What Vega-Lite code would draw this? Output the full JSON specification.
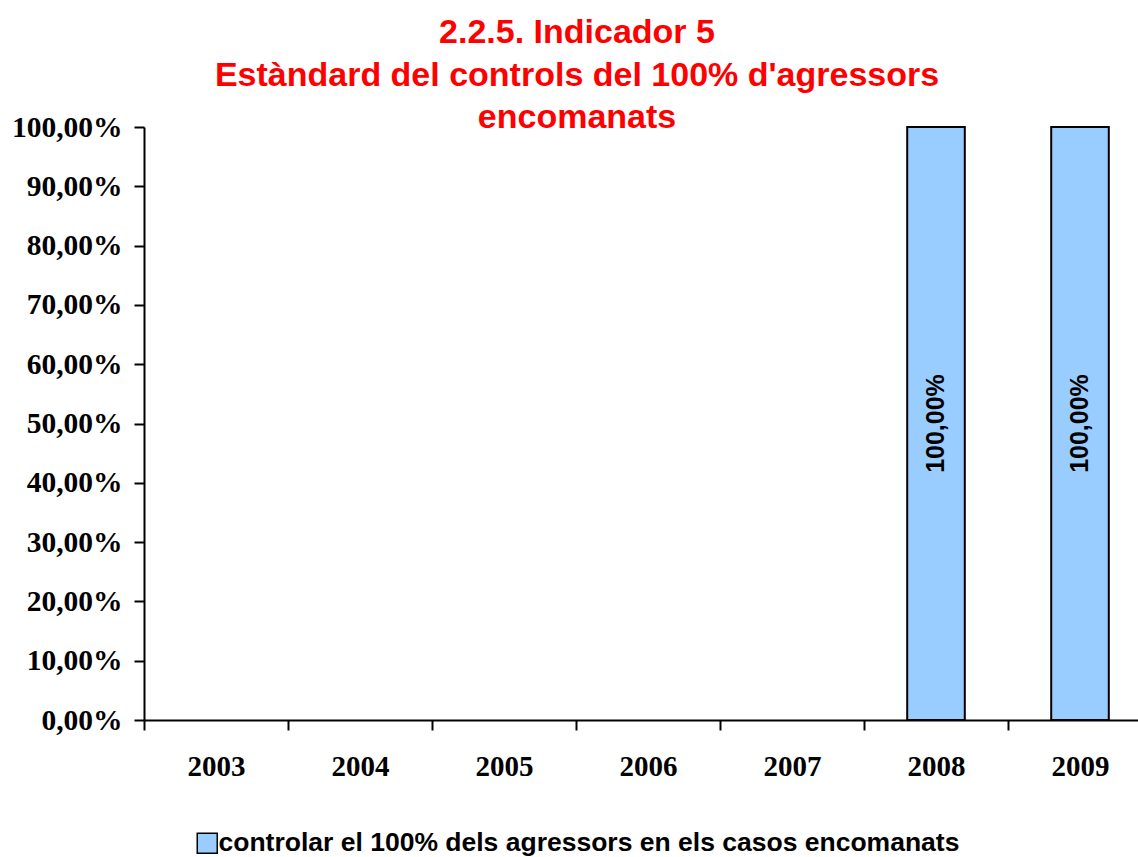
{
  "$schema": "https://vega.github.io/schema/vega-lite/v6.json",
  "autosize": "none",
  "width": 994,
  "height": 593,
  "padding": {"left": 144, "top": 127, "right": 0, "bottom": 137},
  "background": "white",
  "config": {
    "locale": {"number": {"decimal": ",", "thousands": ".", "grouping": [3], "currency": ["", " €"]}},
    "view": {"stroke": null}
  },
  "title": {
    "text": ["2.2.5. Indicador 5", "Estàndard del controls del 100% d'agressors", "encomanats"],
    "font": "Liberation Sans",
    "fontWeight": "bold",
    "fontSize": 34,
    "lineHeight": 42.5,
    "color": "#FF0000",
    "anchor": "middle",
    "dx": -64,
    "offset": -23
  },
  "data": {
    "values": [
      {"year": "2003", "value": null, "series": "controlar el 100% dels agressors en els casos encomanats"},
      {"year": "2004", "value": null, "series": "controlar el 100% dels agressors en els casos encomanats"},
      {"year": "2005", "value": null, "series": "controlar el 100% dels agressors en els casos encomanats"},
      {"year": "2006", "value": null, "series": "controlar el 100% dels agressors en els casos encomanats"},
      {"year": "2007", "value": null, "series": "controlar el 100% dels agressors en els casos encomanats"},
      {"year": "2008", "value": 1.0, "series": "controlar el 100% dels agressors en els casos encomanats"},
      {"year": "2009", "value": 1.0, "series": "controlar el 100% dels agressors en els casos encomanats"}
    ]
  },
  "encoding": {
    "x": {
      "field": "year",
      "type": "nominal",
      "sort": null,
      "scale": {"domain": ["2003", "2004", "2005", "2006", "2007", "2008", "2009"], "range": [0, 1008], "paddingInner": 0.6, "paddingOuter": 0.3},
      "axis": {
        "title": null,
        "labelAngle": 0,
        "labelFont": "Liberation Serif",
        "labelFontWeight": "bold",
        "labelFontSize": 29,
        "labelColor": "black",
        "labelPadding": 22,
        "tickOffset": -72,
        "labelOffset": 72,
        "tickSize": 10,
        "tickWidth": 2,
        "tickColor": "black",
        "domainColor": "black",
        "domainWidth": 2,
        "grid": false
      }
    }
  },
  "layer": [
    {
      "mark": {"type": "bar", "fill": "#99CCFF", "stroke": "black", "strokeWidth": 2},
      "encoding": {
        "y": {
          "field": "value",
          "type": "quantitative",
          "scale": {"domain": [0, 1], "nice": false},
          "axis": {
            "title": null,
            "format": ".2%",
            "values": [0, 0.1, 0.2, 0.3, 0.4, 0.5, 0.6, 0.7, 0.8, 0.9, 1.0],
            "labelFont": "Liberation Serif",
            "labelFontWeight": "bold",
            "labelFontSize": 29.5,
            "labelColor": "black",
            "labelPadding": 12,
            "tickSize": 10,
            "tickWidth": 2,
            "tickColor": "black",
            "domainColor": "black",
            "domainWidth": 2,
            "grid": false
          }
        },
        "fill": {
          "field": "series",
          "type": "nominal",
          "scale": {"range": ["#99CCFF"]},
          "legend": {
            "title": null,
            "orient": "none",
            "legendX": 50,
            "legendY": 703,
            "symbolType": "square",
            "symbolSize": 400,
            "symbolStrokeColor": "black",
            "symbolStrokeWidth": 1.5,
            "labelFont": "Liberation Sans",
            "labelFontWeight": "bold",
            "labelFontSize": 26.5,
            "labelColor": "black",
            "labelLimit": 0,
            "labelOffset": -2
          }
        }
      }
    },
    {
      "transform": [{"filter": "datum.value > 0"}],
      "mark": {"type": "text", "angle": 270, "align": "center", "baseline": "middle", "font": "Liberation Sans", "fontWeight": "bold", "fontSize": 25, "color": "black"},
      "encoding": {
        "y": {"datum": 0.5, "type": "quantitative"},
        "text": {"field": "value", "type": "quantitative", "format": ".2%"}
      }
    }
  ]
}
